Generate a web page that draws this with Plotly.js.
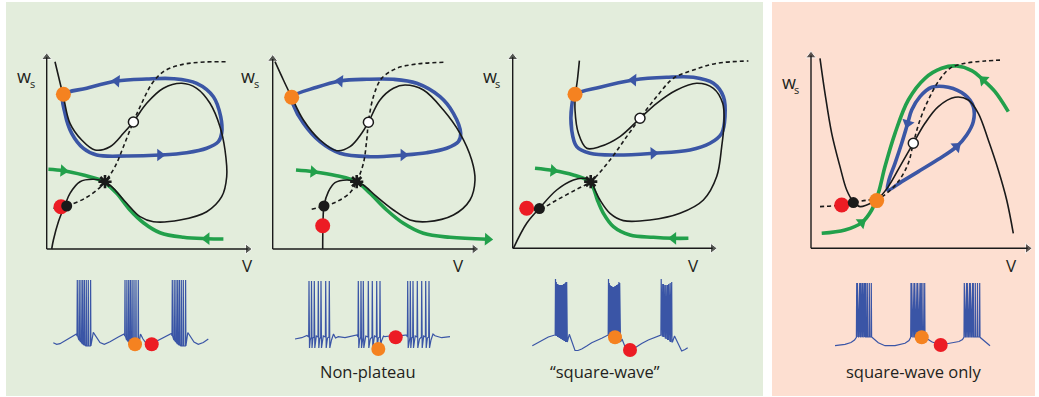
<!DOCTYPE html>
<html><head><meta charset="utf-8">
<script src="https://cdn.plot.ly/plotly-3.0.1.min.js"></script>
<style>html,body{margin:0;padding:0;background:#fff}#chart{width:1039px;height:397px}</style>
</head><body><div id="chart"></div>
<script>
// ---------- phase-plane data (V, w_s in schematic units) ----------
const p1Black=[[8.3,187.3],[16.7,152.3],[23.3,125.7],[35,109],[48.3,99],[63.3,102.3],[76.7,115.7],[86.7,127.3],[100,145.7],[116.7,160.7],[135,165.7],[150,160.7],[163.3,145.7],[173.3,122.3],[178.3,99],[180,72.3],[175,52.3],[160,37.3],[133.3,29],[106.7,27.3],[93.3,32.3],[80,45.7],[66.7,60.7],[58.3,67.3],[46.7,69.7],[33.3,67.3],[23.3,55.7],[18.3,44],[11.7,27.3],[6.7,9],[5,0]];
const p1Dash=[[6.7,40.7],[20,43],[40,51.7],[53.3,61.7],[58.3,67.3],[68.3,82.3],[76.7,102.3],[86.7,127.3],[95,145.7],[105,165],[116.7,177.3],[133.3,184],[153.3,186.7],[180,187.3]];
const p1Blue=[[16.7,154],[18.3,135.7],[25,115.7],[36.7,100.7],[50,94],[80,93],[113.3,94],[140,96.3],[160,100.7],[171.7,107.3],[175,116],[174,132.3],[166.7,152.3],[150,165.7],[126.7,170.3],[100,170],[70,168],[40,160.7],[16.7,154]];
const p1Green=[[1.7,79.7],[16.7,78.3],[36.7,74],[53.3,69],[60,65],[70,55.7],[83.3,39],[96.7,26.3],[113.3,16.3],[136.7,11.7],[160,10.3],[176.7,10]];
const p1BlueArrows=[[70,168,275],[113.3,94,90]];
const p1GreenArrows=[[16.7,78.3,95],[160,10.3,270]];
const p1Red=[14.3,42.3], p1BlackDot=[20,43], p1Orange=[16.7,154.7], p1White=[86.7,127], p1Saddle=[58.3,67.3];

const p2Black=[[2.3,187.3],[10.7,169],[19,151.7],[30.7,129],[47.3,109],[64,98.3],[77.3,102.3],[89,115.7],[95.7,126.7],[107.3,149],[120.7,160.7],[132.3,164],[150.7,159],[170.7,139],[187.3,115.7],[199,89],[202.3,69],[197.3,49],[180.7,34],[154,27.3],[137.3,29],[120.7,39],[104,52.3],[90.7,64],[84,67.3],[74,69],[62.3,66.3],[55.7,57.3],[51.3,43],[50.3,25.7],[50,0]];
const p2Dash=[[39,39.7],[51.3,43],[64,47.3],[77.3,56.3],[84,67.3],[90.7,85.7],[94,109],[95.7,126.7],[100.7,152.3],[109,170.7],[124,180.7],[144,185],[170.7,186.7]];
const p2Blue=[[19,151.7],[20.7,144],[30.7,125.7],[47.3,107.3],[67.3,95.7],[97.3,92.3],[130.7,94],[154,96.3],[174,100.7],[185.7,107.3],[188,115.7],[180.7,135.7],[167.3,152.3],[144,165.7],[120.7,169.7],[94,169.7],[67.3,168],[44,161.7],[19,151.7]];
const p2Green=[[23.3,79],[40.7,77.3],[64,73.3],[84,67.3],[97.3,55.7],[114,39],[130.7,25.7],[150.7,15.7],[177.3,11.7],[215,9.7]];
const p2BlueArrows=[[67.3,168,275],[130.7,94,90]];
const p2GreenArrows=[[40.7,77.3,95],[215,9.7,92]];
const p2Red=[50,23.3], p2BlackDot=[51.3,43], p2Orange=[19,151.7], p2White=[95.7,126.7], p2Saddle=[84,67.3];

const p3Black=[[66.7,187.7],[64.7,168.3],[62.7,153.3],[62.3,138.3],[65.7,115],[74,100],[87.3,101.7],[107.3,111.7],[127.3,130],[144,145],[164,158.3],[184,165],[200.7,160],[210,145],[211.3,125],[209,101.7],[204,71.7],[190.7,48.3],[167.3,35],[137.3,28.3],[110.7,27.7],[97.3,35],[87.3,48.3],[82.3,58.3],[78,66.7],[70.7,70],[60.7,68.3],[44,58.3],[26.7,40],[14,25],[0.7,0]];
const p3Dash=[[14,39],[26.7,39],[44,48.3],[64,59],[78,66.7],[97.3,88.3],[114,111.7],[127.3,130],[144,151.7],[160.7,170],[180.7,178.3],[204,185],[235.7,187.3]];
const p3Blue=[[62.3,153.3],[59,141.7],[59,118.3],[64,101.7],[77.3,95],[104,93.3],[140.7,95],[177.3,98.3],[197.3,105],[209,115],[212.3,131.7],[210.7,151.7],[200.7,165],[180.7,171],[154,171],[120.7,168.3],[87.3,161],[62.3,153.3]];
const p3Green=[[22.3,80],[40.7,77.7],[60.7,73.3],[74,68.3],[80,61.7],[84.7,48.3],[90.7,35],[100.7,21.7],[117.3,13.3],[140.7,11],[160.7,10],[175.7,10]];
const p3BlueArrows=[[120.7,168.3,272],[140.7,95,88]];
const p3GreenArrows=[[40.7,77.7,96],[160.7,10,270]];
const p3Red=[14,40], p3BlackDot=[26.7,39.7], p3Orange=[62.3,154], p3White=[127.3,130], p3Saddle=[78,66.7];

const p4Black=[[9,190],[14,155],[20.7,115],[29,81.7],[35.7,58.3],[42.3,46.7],[49,41.7],[55.7,43.3],[65.7,48.3],[77.3,61.7],[90.7,85],[102.3,105],[114,125],[127.3,141.7],[144,151],[157.3,148.3],[167.3,135],[177.3,108.3],[187.3,78.3],[195.7,48.3],[202.3,15]];
const p4Dash=[[9,41.7],[30.7,43.3],[42.3,45.7],[57.3,48.3],[65.7,49],[75.7,55],[87.3,66.7],[97.3,85],[102.3,105],[109,128.3],[117.3,148.3],[127.3,166.7],[139,180],[154,185],[174,187.3],[192.3,188.3]];
const p4Blue=[[76.7,58.3],[90.7,66.7],[107.3,76.7],[127.3,89],[145.7,101.7],[155.7,113.3],[162.3,126.7],[162.3,141.7],[154,153.3],[137.3,161],[120.7,161],[109,151.7],[100.7,138.3],[96.7,125],[90.7,105],[84,85],[78,68.3],[76.7,58.3]];
const p4Green=[[10.7,15],[34,18.3],[50.7,25.7],[60.7,38.3],[67.3,55],[74,81.7],[84,115],[97.3,148.3],[114,170],[130.7,180],[145.7,182.3],[160.7,177.7],[172.3,168.3],[184,156.7],[197.3,136.7]];
const p4BlueArrows=[[145.7,101.7,49],[96.7,125,197]];
const p4GreenArrows=[[50.7,25.7,53],[172.3,168.3,-48]];
const p4Red=[30.7,43.3], p4BlackDot=[42.3,45.7], p4Orange=[65.7,47.7], p4White=[102.3,105], p4Saddle=null;

// ---------- voltage traces (time, voltage in schematic units) ----------
const t1Base=[[8.3,12.3],[11.7,10.7],[15,11.3],[20,14],[26.7,18],[31.5,21],[48.3,22.7],[51.7,17],[55,12.5],[59.3,10.7],[65,13.3],[73.3,18],[79.2,21],[95.5,21],[98,16],[101,12],[105,10.5],[110,13],[116.7,16.7],[123.3,20],[126.5,21.5],[142.8,22.5],[145.5,18],[149,13],[153.3,10.7],[158.3,12.5],[163.3,16]];
const t1Spikes=[32.3,34.2,36.0,37.7,39.4,41.3,43.3,45.6, 80.0,81.9,83.7,85.4,87.1,89.0,91.0,93.3, 127.3,129.2,131.0,132.7,134.4,136.3,138.3,140.6];
const t1Tops=[75,75,75,75,75,75,75,75, 75,75,75,75,75,75,75,75, 75,75,75,75,75,75,75,75];
const t1Bots=[19,15,13,11,10,9,9,9, 19,15,13,11,10,9,9,9, 19,15,13,11,10,9,9,9];
const t1Orange=[90,10.7], t1Red=[106.7,10.7];

const t2Base=[[10,16],[16.7,17.3],[22,19.5],[25.2,15],[27.9,17],[31.3,19],[34.7,16],[38.3,19],[42.5,17],[46.5,15],[48.5,21],[50.5,17],[53.3,18.3],[60,17.3],[66.7,19],[72,20],[74.6,15],[77.2,17],[80.8,19],[85.3,16],[89.5,19],[93.3,17],[96.5,14],[98.5,19],[100,18.3],[105,19],[116.7,19.3],[121.5,20],[124,15],[126.7,17],[130.2,19],[134.5,16],[138.7,19],[142.4,17],[146,15],[148,21],[150,19.3],[156.7,17.3],[165,18.3]];
const t2Spikes=[24,26.5,29.3,33.3,36,40.7,44.3, 73.3,76,78.3,83.3,87.3,91.7,95, 122.7,125.3,128,132.3,136.7,140.7,144];
const t2Tops=[74,74,74,74,74,74,74, 74,74,74,74,74,74,74, 74,74,74,74,74,74,74];
const t2Bots=[7,7,7,7,7,7,7, 7,7,7,7,7,7,7, 7,7,7,7,7,7,7];
const t2Orange=[93.3,6], t2Red=[110.7,17.7];

const t3Base=[[7.3,9.3],[12,12],[16.7,15],[23.3,18],[29.8,20],[42.3,13],[44.3,20.7],[47,12],[50,4.5],[53,4.5],[56.7,6],[61.7,9],[66.7,12.3],[76.7,16.7],[83,20],[95.5,13],[97,16],[100,8.3],[105,4],[110,7.3],[116.7,11.5],[123.3,15],[130,18],[135.8,20],[147.5,13],[149.5,19],[153,12],[156.7,4],[160,5.5],[162.7,7.3]];
const t3Spikes=[30.5,31.3,32.1,32.9,33.7,34.5,35.3,36.1,36.9,37.7,38.5,39.3,40.1,40.9,41.7, 83.5,84.3,85.1,85.9,86.7,87.5,88.3,89.1,89.9,90.7,91.5,92.3,93.1,93.9,94.7, 136.2,136.95,137.7,138.45,139.2,139.95,140.7,141.45,142.2,142.95,143.7,144.45,145.2,145.95,146.7];
const t3Tops=[76,73,71,71,70,70,70,70,70,70,71,71,72,73,73, 76,72,70,69,69,68,68,68,69,69,70,70,71,73,72, 76,73,71,71,70,70,70,70,70,70,71,71,72,73,73];
const t3Bots=[20,19,19,18,18,17,17,16,16,15,15,14,14,13,13, 20,19,19,18,18,17,17,16,16,15,15,14,14,13,13, 20,19,19,18,18,17,17,16,16,15,15,14,14,13,13];
const t3Orange=[90,17.7], t3Red=[105,5];

const t4Base=[[10,9.3],[20,10.7],[26,12.5],[29.5,15],[31.4,17.7],[47,17.7],[50,15],[53.3,12.3],[60,9.3],[70,9.3],[80,11.7],[84,14.5],[85.7,17.7],[100.3,17.5],[103,15.5],[106.7,13.3],[115,10],[126.7,11.7],[134,13.5],[137.5,15.5],[139,17.7],[155.3,17.5],[158,15],[160,13.3],[165,9.3]];
const t4Spikes=[31.7,32.45,33.2,33.95,34.7,35.45,36.2,36.95,37.7,38.45,39.2,39.95,40.7,42.3,44.3,46.3, 86,86.75,87.5,88.25,89,89.75,90.5,91.25,92,92.75,93.5,94.25,95,96.3,98,99.7, 139.3,140.05,140.8,141.55,142.3,143.05,143.8,144.55,145.3,146.05,146.8,147.55,148.3,150.3,152.5,154.7];
const t4Tops=[72,72,72,72,72,72,72,72,72,72,72,72,72,72,72,72, 72,72,72,72,72,72,72,72,72,72,72,72,72,72,72,72, 72,72,72,72,72,72,72,72,72,72,72,72,72,72,72,72];
const t4Bots=[18,18,18,18,18,18,18,18,18,18,18,18,18,18,18,18, 18,18,18,18,18,18,18,18,18,18,18,18,18,18,18,18, 18,18,18,18,18,18,18,18,18,18,18,18,18,18,18,18];
const t4Orange=[96.7,17.7], t4Red=[115.7,10];

const traceLabels=['', 'Non-plateau', '\u201csquare-wave\u201d', 'square-wave only'];
const axisLabelW='w', axisLabelWSub='s', axisLabelV='V';

// ---------- styling / layout ----------
const W=1039,H=397;
const C={blue:'#3b56a5',green:'#22a04b',orange:'#f58220',red:'#ec1c24',black:'#1a1a1a',trace:'#3a55a6',text:'#231f20'};
const phase=[
 {ox:46.7,oy:249,xmax:240,tip:[205,195.7],wLab:[-29.5,173],vLab:[200.3,-16],black:p1Black,dash:p1Dash,blue:p1Blue,green:p1Green,ba:p1BlueArrows,ga:p1GreenArrows,red:p1Red,bd:p1BlackDot,or:p1Orange,wh:p1White,sd:p1Saddle},
 {ox:272.7,oy:249,xmax:240,tip:[205.7,194],wLab:[-31.5,173],vLab:[186,-16.7],black:p2Black,dash:p2Dash,blue:p2Blue,green:p2Green,ba:p2BlueArrows,ga:p2GreenArrows,red:p2Red,bd:p2BlackDot,or:p2Orange,wh:p2White,sd:p2Saddle},
 {ox:512.7,oy:248.3,xmax:245,tip:[204,195],wLab:[-30,172.3],vLab:[180.7,-17.4],black:p3Black,dash:p3Dash,blue:p3Blue,green:p3Green,ba:p3BlueArrows,ga:p3GreenArrows,red:p3Red,bd:p3BlackDot,or:p3Orange,wh:p3White,sd:p3Saddle},
 {ox:811,oy:248.3,xmax:225,tip:[220.7,196.7],wLab:[-29.5,166],vLab:[200.7,-17.4],black:p4Black,dash:p4Dash,blue:p4Blue,green:p4Green,ba:p4BlueArrows,ga:p4GreenArrows,red:p4Red,bd:p4BlackDot,or:p4Orange,wh:p4White,sd:p4Saddle}
];
const waves=[
 {x0:45,base:t1Base,sp:t1Spikes,top:t1Tops,bot:t1Bots,pre:null,or:t1Orange,red:t1Red,lab:367.5},
 {x0:285,base:t2Base,sp:t2Spikes,top:t2Tops,bot:t2Bots,pre:18,or:t2Orange,red:t2Red,lab:367.5},
 {x0:525,base:t3Base,sp:t3Spikes,top:t3Tops,bot:t3Bots,pre:null,or:t3Orange,red:t3Red,lab:605},
 {x0:825,base:t4Base,sp:t4Spikes,top:t4Tops,bot:t4Bots,pre:null,or:t4Orange,red:t4Red,lab:914}
];

const X=a=>a.map(p=>p[0]), Y=a=>a.map(p=>p[1]);
const data=[], layout={width:W,height:H,margin:{l:0,r:0,t:0,b:0},paper_bgcolor:'#ffffff',plot_bgcolor:'rgba(0,0,0,0)',showlegend:false,shapes:[],annotations:[]};

layout.shapes.push({type:'rect',xref:'paper',yref:'paper',x0:6/W,x1:763/W,y0:1-396/H,y1:1-2/H,fillcolor:'#e3eddc',line:{width:0},layer:'below'});
layout.shapes.push({type:'rect',xref:'paper',yref:'paper',x0:772/W,x1:1035/W,y0:1-396/H,y1:1-2/H,fillcolor:'#fddfd1',line:{width:0},layer:'below'});

phase.forEach((p,k)=>{
  const n=k+1, xa=n===1?'x':'x'+n, ya=n===1?'y':'y'+n;
  const xr=[-35,p.xmax], yr=[-25,205];
  layout[n===1?'xaxis':'xaxis'+n]={domain:[(p.ox+xr[0])/W,(p.ox+xr[1])/W],range:xr,visible:false,fixedrange:true,anchor:ya};
  layout[n===1?'yaxis':'yaxis'+n]={domain:[(H-(p.oy-yr[0]))/H,(H-(p.oy-yr[1]))/H],range:yr,visible:false,fixedrange:true,anchor:xa};
  const ax={xaxis:xa,yaxis:ya,hoverinfo:'skip'};
  // axes with arrowheads
  layout.shapes.push({type:'line',xref:xa,yref:ya,x0:0,y0:0,x1:0,y1:p.tip[1]-4,line:{color:C.black,width:1.4}});
  layout.shapes.push({type:'line',xref:xa,yref:ya,x0:0,y0:0,x1:p.tip[0]-4,y1:0,line:{color:C.black,width:1.4}});
  data.push(Object.assign({type:'scatter',mode:'markers',x:[0,p.tip[0]-4],y:[p.tip[1]-4,0],marker:{symbol:'triangle-up',size:[9,9],color:C.black,angle:[0,90]},cliponaxis:false},ax));
  data.push(Object.assign({type:'scatter',mode:'lines',x:X(p.blue),y:Y(p.blue),line:{color:C.blue,width:3.6,shape:'spline',smoothing:1}},ax));
  data.push(Object.assign({type:'scatter',mode:'lines',x:X(p.green),y:Y(p.green),line:{color:C.green,width:3.6,shape:'spline',smoothing:1}},ax));
  data.push(Object.assign({type:'scatter',mode:'markers',x:p.ba.map(a=>a[0]),y:p.ba.map(a=>a[1]),marker:{symbol:'triangle-up',size:11,color:C.blue,angle:p.ba.map(a=>a[2])}},ax));
  data.push(Object.assign({type:'scatter',mode:'markers',x:p.ga.map(a=>a[0]),y:p.ga.map(a=>a[1]),marker:{symbol:'triangle-up',size:11,color:C.green,angle:p.ga.map(a=>a[2])}},ax));
  data.push(Object.assign({type:'scatter',mode:'lines',x:X(p.black),y:Y(p.black),line:{color:C.black,width:1.6,shape:'spline',smoothing:1}},ax));
  data.push(Object.assign({type:'scatter',mode:'lines',x:X(p.dash),y:Y(p.dash),line:{color:C.black,width:1.6,dash:'4px,3px',shape:'spline',smoothing:1}},ax));
  if(p.sd) data.push(Object.assign({type:'scatter',mode:'markers',x:[p.sd[0]],y:[p.sd[1]],marker:{symbol:'asterisk-open',size:11,color:C.black,line:{color:C.black,width:2.6}}},ax));
  data.push(Object.assign({type:'scatter',mode:'markers',x:[p.red[0]],y:[p.red[1]],marker:{size:15,color:C.red},cliponaxis:false},ax));
  data.push(Object.assign({type:'scatter',mode:'markers',x:[p.bd[0]],y:[p.bd[1]],marker:{size:11,color:C.black},cliponaxis:false},ax));
  data.push(Object.assign({type:'scatter',mode:'markers',x:[p.or[0]],y:[p.or[1]],marker:{size:15,color:C.orange},cliponaxis:false},ax));
  data.push(Object.assign({type:'scatter',mode:'markers',x:[p.wh[0]],y:[p.wh[1]],marker:{size:10,color:'#ffffff',line:{color:C.black,width:1.5}},cliponaxis:false},ax));
  layout.annotations.push({xref:xa,yref:ya,x:p.wLab[0],y:p.wLab[1],text:axisLabelW,showarrow:false,xanchor:'left',yanchor:'middle',borderpad:0,borderwidth:0,font:{family:'Open Sans',size:18,color:C.text}});
  layout.annotations.push({xref:xa,yref:ya,x:p.wLab[0]+12.5,y:p.wLab[1]-7,text:axisLabelWSub,showarrow:false,xanchor:'left',yanchor:'middle',borderpad:0,borderwidth:0,font:{family:'Open Sans',size:11,color:C.text}});
  layout.annotations.push({xref:xa,yref:ya,x:p.vLab[0],y:p.vLab[1],text:axisLabelV,showarrow:false,xanchor:'center',yanchor:'middle',font:{family:'Open Sans',size:17,color:C.text}});
});

waves.forEach((w,k)=>{
  const n=k+5, xa='x'+n, ya='y'+n;
  layout['xaxis'+n]={domain:[w.x0/W,(w.x0+180)/W],range:[0,180],visible:false,fixedrange:true,anchor:ya};
  layout['yaxis'+n]={domain:[(H-355)/H,(H-275)/H],range:[0,80],visible:false,fixedrange:true,anchor:xa};
  const pts=w.base.slice();
  w.sp.forEach((t,i)=>{
    pts.push([t-0.3,w.pre===null?w.bot[i]:w.pre]);
    pts.push([t,w.top[i]]);
    pts.push([t+(w.pre===null?0.3:0.5),w.bot[i]]);
  });
  pts.sort((a,b)=>a[0]-b[0]);
  const ax={xaxis:xa,yaxis:ya,hoverinfo:'skip'};
  data.push(Object.assign({type:'scatter',mode:'lines',x:X(pts),y:Y(pts),line:{color:C.trace,width:1.2},cliponaxis:false},ax));
  data.push(Object.assign({type:'scatter',mode:'markers',x:[w.or[0]],y:[w.or[1]],marker:{size:14,color:C.orange},cliponaxis:false},ax));
  data.push(Object.assign({type:'scatter',mode:'markers',x:[w.red[0]],y:[w.red[1]],marker:{size:14,color:C.red},cliponaxis:false},ax));
  if(traceLabels[k]) layout.annotations.push({xref:'paper',yref:'paper',x:w.lab/W,y:1-371.5/H,text:traceLabels[k],showarrow:false,xanchor:'center',yanchor:'middle',font:{family:'Open Sans',size:16.5,color:C.text}});
});

Plotly.newPlot('chart',data,layout,{staticPlot:true,displayModeBar:false});
</script></body></html>
